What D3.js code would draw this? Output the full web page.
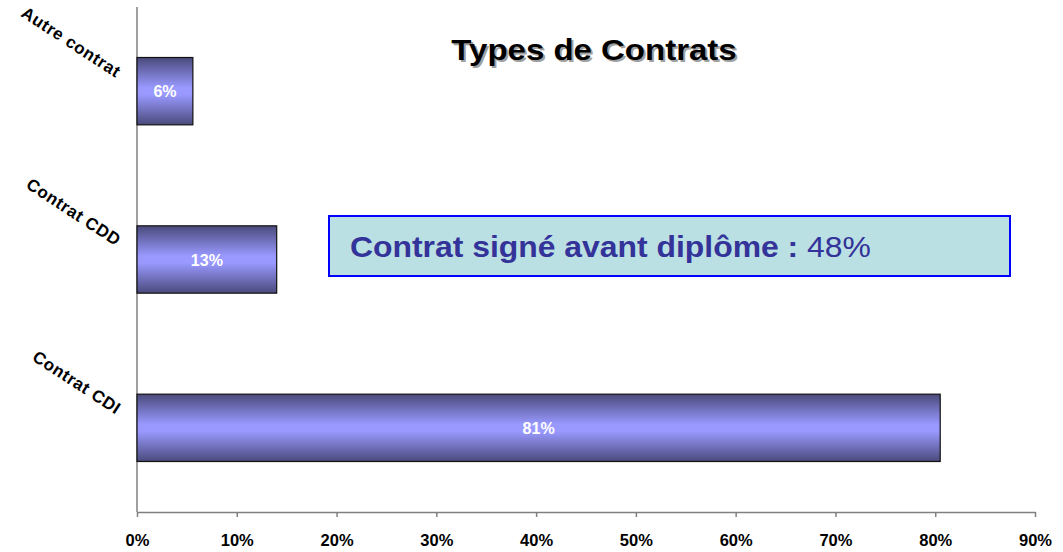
<!DOCTYPE html>
<html>
<head>
<meta charset="utf-8">
<script src="https://cdn.jsdelivr.net/npm/d3@7"></script>
<style>
  body { margin: 0; background: #fff; }
  text { font-family: Arial, "Liberation Sans", sans-serif; }
</style>
</head>
<body>
<div id="chart"></div>
<script>
// data
const categories = ["Autre contrat", "Contrat CDD", "Contrat CDI"];
const values = [5.6, 14.0, 80.5];
const valueLabels = ["6%", "13%", "81%"];
const xTicks = [0, 10, 20, 30, 40, 50, 60, 70, 80, 90];
const title = "Types de Contrats";
const noteBold = "Contrat signé avant diplôme : ";
const noteValue = "48%";

const W = 1063, H = 552;
const margin = { top: 7, right: 28, bottom: 40, left: 137 },
    width = W - margin.left - margin.right,
    height = H - margin.top - margin.bottom;

const svg = d3.select("#chart")
    .append("svg")
    .attr("width", W)
    .attr("height", H);

// gradient for the bars: dark edges, light middle
const defs = svg.append("defs");
const grad = defs.append("linearGradient")
    .attr("id", "barGrad")
    .attr("x1", 0).attr("y1", 0).attr("x2", 0).attr("y2", 1);
grad.append("stop").attr("offset", "0%").attr("stop-color", "#4a4a7c");
grad.append("stop").attr("offset", "45%").attr("stop-color", "#9999ff");
grad.append("stop").attr("offset", "55%").attr("stop-color", "#9999ff");
grad.append("stop").attr("offset", "100%").attr("stop-color", "#4a4a7c");

const g = svg.append("g")
    .attr("transform", "translate(" + margin.left + "," + margin.top + ")");

const x = d3.scaleLinear()
    .domain([0, 90])
    .range([0, 898]);

const y = d3.scaleBand()
    .domain(categories)
    .range([0, height])
    .paddingInner(0.6)
    .paddingOuter(0.3);

// x axis
const xAxis = g.append("g")
    .attr("transform", "translate(0," + height + ")")
    .call(d3.axisBottom(x).tickValues(xTicks).tickSize(5).tickSizeOuter(0)
        .tickFormat(d => d + "%"));
xAxis.select(".domain").attr("stroke", "#808080").attr("stroke-width", 1.5);
xAxis.selectAll(".tick line").attr("stroke", "#808080").attr("stroke-width", 1.5);
xAxis.selectAll(".tick text")
    .attr("y", 22)
    .attr("fill", "#000")
    .style("font-size", "16.5px")
    .style("font-weight", "bold");

// y axis line
g.append("line")
    .attr("x1", 0).attr("x2", 0)
    .attr("y1", 0).attr("y2", height)
    .attr("stroke", "#808080")
    .attr("stroke-width", 1.5);

// category labels, rotated
g.selectAll(".cat")
    .data(categories)
    .enter()
    .append("text")
    .attr("class", "cat")
    .attr("text-anchor", "end")
    .attr("transform", d => "translate(-21," + (y(d) + y.bandwidth() / 2 - 13) + ") rotate(33)")
    .style("font-size", "17px")
    .style("letter-spacing", "0.6px")
    .style("font-weight", "bold")
    .text(d => d);

// bars
g.selectAll(".bar")
    .data(values)
    .enter()
    .append("rect")
    .attr("class", "bar")
    .attr("x", 0)
    .attr("y", (d, i) => y(categories[i]))
    .attr("width", d => x(d))
    .attr("height", y.bandwidth())
    .attr("fill", "url(#barGrad)")
    .attr("stroke", "#111")
    .attr("stroke-width", 1.2);

// value labels
g.selectAll(".val")
    .data(values)
    .enter()
    .append("text")
    .attr("class", "val")
    .attr("x", d => x(d) / 2)
    .attr("y", (d, i) => y(categories[i]) + y.bandwidth() / 2 + 6)
    .attr("text-anchor", "middle")
    .attr("fill", "#fff")
    .style("font-size", "16px")
    .style("font-weight", "bold")
    .text((d, i) => valueLabels[i]);

// title with shadow
[[2, 2, "#a0a0a0"], [0, 0, "#000"]].forEach(([dx, dy, c]) => {
    svg.append("text")
        .attr("transform", "translate(" + (594 + dx) + "," + (60 + dy) + ") scale(1.1,1)")
        .attr("text-anchor", "middle")
        .attr("fill", c)
        .style("font-size", "30px")
        .style("font-weight", "bold")
        .text(title);
});

// note box
svg.append("rect")
    .attr("x", 329).attr("y", 216)
    .attr("width", 681).attr("height", 60)
    .attr("fill", "#bbe0e3")
    .attr("stroke", "#0000ff")
    .attr("stroke-width", 2);
const note = svg.append("text")
    .attr("transform", "translate(350,257) scale(1.1,1)")
    .attr("fill", "#333399")
    .style("font-size", "29px");
note.append("tspan").style("font-weight", "bold").text(noteBold);
note.append("tspan").text(noteValue);
</script>
</body>
</html>
